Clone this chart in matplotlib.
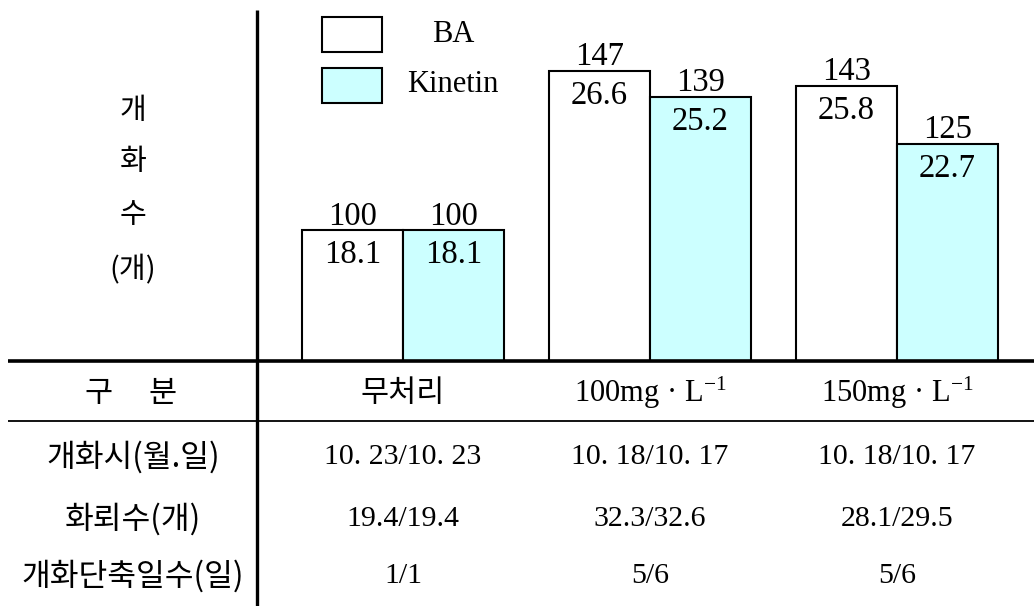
import numpy as np
import matplotlib
matplotlib.use('Agg')
import matplotlib.pyplot as plt
from matplotlib.patches import Rectangle

plt.rcParams['font.family'] = ['Liberation Serif', 'DejaVu Serif']
plt.rcParams['mathtext.fontset'] = 'custom'
plt.rcParams['mathtext.rm'] = 'Liberation Serif'
plt.rcParams['mathtext.it'] = 'Liberation Serif'

KO = ['Noto Sans CJK KR', 'DejaVu Sans']

# 데이터
treatments = ['무처리', '100mg · L$^{-1}$', '150mg · L$^{-1}$']
series = ['BA', 'Kinetin']
ba_flowers = [18.1, 26.6, 25.8]
kin_flowers = [18.1, 25.2, 22.7]
ba_index = [100, 147, 143]
kin_index = [100, 139, 125]
row_labels = ['개화시(월.일)', '화뢰수(개)', '개화단축일수(일)']
flower_date = ['10. 23/10. 23', '10. 18/10. 17', '10. 18/10. 17']
bud_count = ['19.4/19.4', '32.3/32.6', '28.1/29.5']
days_short = ['1/1', '5/6', '5/6']

W, H = 1034, 606
fig = plt.figure(figsize=(W / 100, H / 100), dpi=100)

# 막대 그래프 영역 (픽셀 기준 배치)
ax = fig.add_axes([257 / W, 1 - 361 / H, (W - 257) / W, (361 - 10) / H])
x = np.arange(len(treatments))
w = 0.409
ax.bar(x - w / 2, ba_flowers, w, color='white', edgecolor='black', linewidth=1.5)
ax.bar(x + w / 2, kin_flowers, w, color='#ccffff', edgecolor='black', linewidth=1.5)
ax.set_xlim(-0.591, 2.555)
ax.set_ylim(11.15, 29.83)
ax.axis('off')

for xs, vals, idx in [(x - w / 2, ba_flowers, ba_index), (x + w / 2, kin_flowers, kin_index)]:
    for xi, v, i in zip(xs, vals, idx):
        ax.annotate(str(i), (xi, v), xytext=(0, 4.0), textcoords='offset points',
                    ha='center', va='baseline', fontsize=23.5)
        ax.annotate(f'{v:.1f}', (xi, v), xytext=(0, -23.8), textcoords='offset points',
                    ha='center', va='baseline', fontsize=23.5)

# 표와 선, 범례는 픽셀 좌표 오버레이에
ov = fig.add_axes([0, 0, 1, 1], facecolor='none')
ov.set_xlim(0, W)
ov.set_ylim(H, 0)
ov.axis('off')

ov.plot([257, 257], [10, 606], color='black', linewidth=2.4, solid_capstyle='butt')
ov.plot([8, W], [361, 361], color='black', linewidth=2.6, solid_capstyle='butt')
ov.plot([8, W], [421, 421], color='black', linewidth=1.3, solid_capstyle='butt')

# 범례
for yb, fc, name, yt in [(17, 'white', series[0], 34), (68, '#ccffff', series[1], 84)]:
    ov.add_patch(Rectangle((322, yb), 60, 35, facecolor=fc, edgecolor='black', linewidth=1.5))
    ov.text(453, yt, name, ha='center', va='center', fontsize=22)

# y축 제목
for ch, yy in zip(['개', '화', '수', '(개)'], [111, 162, 215, 270]):
    ov.text(133, yy, ch, ha='center', va='center', fontsize=21, family=KO)

# 표
col_x = [403, 650, 897]
row_y = [457, 519, 576]
ov.text(99, 393, '구', ha='center', va='center', fontsize=22, family=KO)
ov.text(163, 393, '분', ha='center', va='center', fontsize=22, family=KO)
ov.text(col_x[0], 393, treatments[0], ha='center', va='center', fontsize=22, family=KO)
for cx, t in zip(col_x[1:], treatments[1:]):
    ov.text(cx, 393, t, ha='center', va='center', fontsize=22)

for ry, lab, vals in zip(row_y, row_labels, [flower_date, bud_count, days_short]):
    ov.text(133, ry, lab, ha='center', va='center', fontsize=22.5, family=KO)
    for cx, v in zip(col_x, vals):
        ov.text(cx, ry, v, ha='center', va='center', fontsize=21.5)

fig.savefig('out.png', dpi=100)
